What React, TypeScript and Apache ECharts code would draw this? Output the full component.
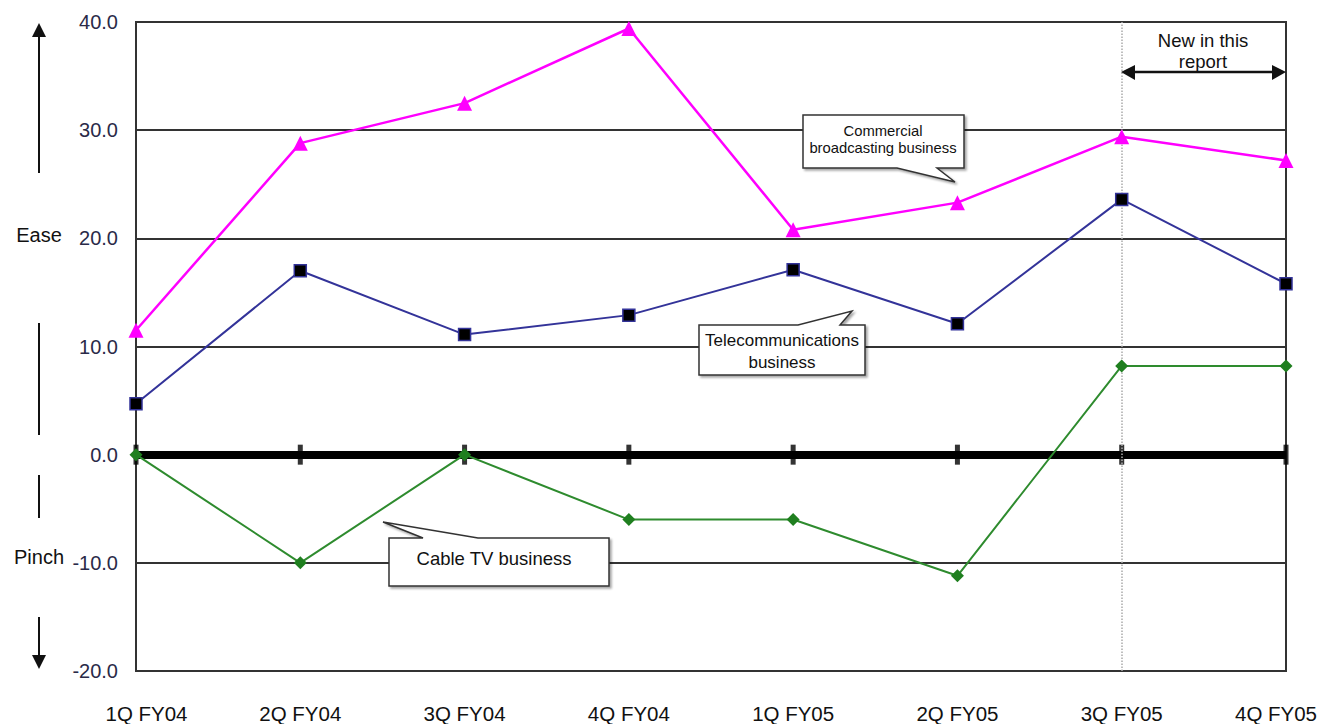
import React, { useEffect, useRef } from "react";
import * as echarts from "echarts";

const categories = ["1Q FY04", "2Q FY04", "3Q FY04", "4Q FY04", "1Q FY05", "2Q FY05", "3Q FY05", "4Q FY05"];
const commercialBroadcasting = [11.5, 28.8, 32.5, 39.4, 20.8, 23.3, 29.4, 27.2];
const telecommunications = [4.7, 17.0, 11.1, 12.9, 17.1, 12.1, 23.6, 15.8];
const cableTV = [0, -10.0, 0, -6.0, -6.0, -11.2, 8.2, 8.2];
const zeroTicks = [0, 0, 0, 0, 0, 0, 0, 0];
const newSince = "3Q FY05";

const FONT = "'Liberation Sans', Arial, sans-serif";

export default function App() {
  const ref = useRef<HTMLDivElement>(null);
  useEffect(() => {
    const chart = echarts.init(ref.current!, undefined, { renderer: "svg" });
    const shadow = { shadowBlur: 2, shadowOffsetX: 2, shadowOffsetY: 2, shadowColor: "rgba(0,0,0,0.35)" };
    const boxStyle = { fill: "#fff", stroke: "#333", lineWidth: 1.5, ...shadow };
    const txt = (x: number, y: number, text: string, size = 15, align = "center") => ({
      type: "text",
      x,
      y,
      z: 20,
      style: { text, fill: "#111", font: `${size}px ${FONT}`, textAlign: align, textVerticalAlign: "middle" },
    });
    const xl = { fontSize: 20.5, fontFamily: FONT, color: "#111" };
    chart.setOption({
      animation: false,
      backgroundColor: "#fff",
      grid: { left: 136, right: 36, top: 22, bottom: 51, show: true, borderColor: "#333", borderWidth: 2 },
      xAxis: {
        type: "category",
        data: categories,
        boundaryGap: false,
        axisLine: { onZero: false, show: false },
        axisTick: { show: false },
        axisLabel: {
          ...xl,
          margin: 32,
          formatter: (v: string, i: number) =>
            i === 0 ? `{a|${v}}` : i === categories.length - 1 ? `{b|${v}}` : v,
          rich: {
            a: { ...xl, padding: [0, 0, 0, 21] },
            b: { ...xl, padding: [0, 20, 0, 0] },
          },
        },
        splitLine: { show: false },
      },
      yAxis: {
        type: "value",
        min: -20,
        max: 40,
        interval: 10,
        axisLine: { show: false },
        axisTick: { show: false },
        axisLabel: {
          formatter: (v: number) => v.toFixed(1),
          color: "#2a2a48",
          fontSize: 20,
          fontFamily: FONT,
          margin: 18,
        },
        splitLine: { lineStyle: { color: "#333", width: 2 } },
      },
      series: [
        {
          name: "zero",
          type: "scatter",
          data: zeroTicks,
          symbol: "rect",
          symbolSize: [5, 20],
          itemStyle: { color: "#000" },
          silent: true,
          z: 3,
          markLine: {
            silent: true,
            symbol: "none",
            label: { show: false },
            data: [
              { yAxis: 0, lineStyle: { color: "#000", width: 8, type: "solid" } },
              { xAxis: newSince, lineStyle: { color: "#aaa", width: 1.5, type: "dotted" } },
            ],
          },
        },
        {
          name: "Commercial broadcasting business",
          type: "line",
          data: commercialBroadcasting,
          symbol: "triangle",
          symbolSize: 15,
          lineStyle: { color: "#ff00ff", width: 2.5 },
          itemStyle: { color: "#ff00ff" },
          z: 5,
        },
        {
          name: "Telecommunications business",
          type: "line",
          data: telecommunications,
          symbol: "rect",
          symbolSize: 12,
          lineStyle: { color: "#333399", width: 2 },
          itemStyle: { color: "#000", borderColor: "#333399", borderWidth: 1.5 },
          z: 5,
        },
        {
          name: "Cable TV business",
          type: "line",
          data: cableTV,
          symbol: "diamond",
          symbolSize: 13,
          lineStyle: { color: "#2e8b2e", width: 2 },
          itemStyle: { color: "#1f7f1f" },
          z: 6,
        },
      ],
      graphic: [
        // Left side arrows
        { type: "line", shape: { x1: 39, y1: 36, x2: 39, y2: 173 }, style: { stroke: "#111", lineWidth: 2 } },
        { type: "polygon", shape: { points: [[39, 23], [32, 37], [46, 37]] }, style: { fill: "#111" } },
        txt(39, 235, "Ease", 20),
        { type: "line", shape: { x1: 39, y1: 323, x2: 39, y2: 435 }, style: { stroke: "#111", lineWidth: 2 } },
        { type: "line", shape: { x1: 39, y1: 475, x2: 39, y2: 518 }, style: { stroke: "#111", lineWidth: 2 } },
        txt(39, 557, "Pinch", 20),
        { type: "line", shape: { x1: 39, y1: 617, x2: 39, y2: 656 }, style: { stroke: "#111", lineWidth: 2 } },
        { type: "polygon", shape: { points: [[39, 669], [32, 655], [46, 655]] }, style: { fill: "#111" } },
        // New in this report
        txt(1203, 40, "New in this", 18.5),
        txt(1203, 61, "report", 18.5),
        { type: "line", shape: { x1: 1132, y1: 72, x2: 1274, y2: 72 }, style: { stroke: "#111", lineWidth: 2.5 }, z: 20 },
        { type: "polygon", shape: { points: [[1121, 72], [1135, 65], [1135, 80]] }, style: { fill: "#111" }, z: 20 },
        { type: "polygon", shape: { points: [[1286, 72], [1272, 65], [1272, 80]] }, style: { fill: "#111" }, z: 20 },
        // Commercial callout
        {
          type: "polygon",
          z: 15,
          shape: { points: [[803, 115], [964, 115], [964, 168], [937, 168], [955, 182], [897, 168], [803, 168]] },
          style: boxStyle,
        },
        txt(883, 131, "Commercial", 14.8),
        txt(883, 148, "broadcasting business", 14.8),
        // Telecom callout
        {
          type: "polygon",
          z: 15,
          shape: { points: [[699, 325], [798, 325], [852, 311], [840, 325], [865, 325], [865, 375], [699, 375]] },
          style: boxStyle,
        },
        txt(782, 340, "Telecommunications", 17),
        txt(782, 362, "business", 17),
        // Cable callout
        {
          type: "polygon",
          z: 15,
          shape: { points: [[389, 538], [423, 538], [383, 522], [478, 538], [609, 538], [609, 586], [389, 586]] },
          style: boxStyle,
        },
        txt(494, 558, "Cable TV business", 18.5),
      ],
    });
    return () => chart.dispose();
  }, []);
  return <div ref={ref} style={{ position: "fixed", left: 0, top: 0, width: 1322, height: 724 }} />;
}
